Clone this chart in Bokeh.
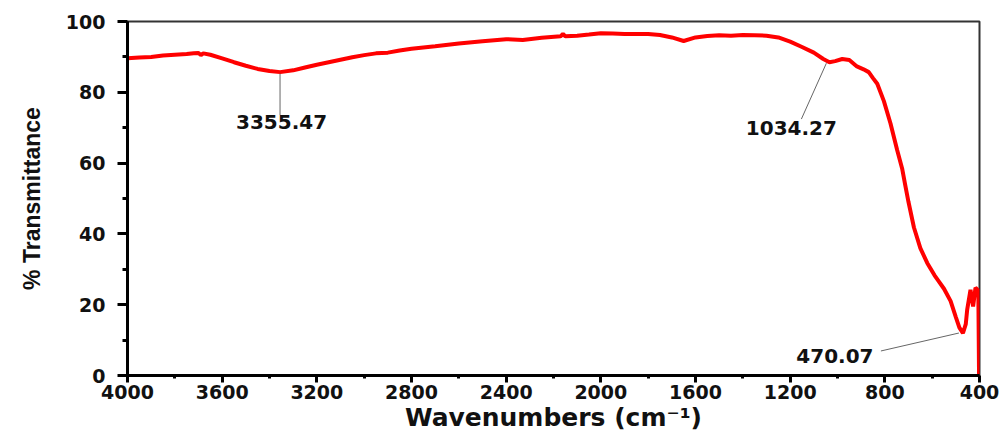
import numpy as np
from bokeh.plotting import figure
from bokeh.models import Range1d, FixedTicker
from bokeh.embed import file_html
from bokeh.resources import INLINE
from bokeh.core.properties import value

# FTIR spectrum
wavenumber = [4000, 3950, 3900, 3850, 3800, 3750, 3720, 3700, 3690, 3680, 3650,
              3600, 3550, 3500, 3450, 3400, 3355, 3300, 3250, 3200, 3150, 3100,
              3050, 3000, 2950, 2900, 2850, 2800, 2700, 2600, 2500, 2400, 2330,
              2250, 2170, 2160, 2150, 2100, 2050, 2000, 1950, 1900, 1800, 1750,
              1700, 1650, 1600, 1550, 1500, 1450, 1400, 1350, 1300, 1250, 1200,
              1150, 1100, 1060, 1034, 1010, 980, 950, 918, 890, 868, 850, 832,
              804, 776, 748, 727, 713, 700, 677, 650, 621, 590, 572, 550, 522,
              500, 485, 470, 458, 452, 438, 427, 417, 408, 405, 402, 400]
transmittance = [89.6, 89.8, 90.0, 90.4, 90.6, 90.8, 91.0, 91.1, 90.5, 91.0, 90.6,
                 89.6, 88.5, 87.5, 86.6, 86.0, 85.7, 86.2, 87.0, 87.8, 88.5, 89.2,
                 89.9, 90.5, 91.0, 91.2, 91.8, 92.3, 93.0, 93.8, 94.4, 95.0, 94.8,
                 95.4, 95.8, 96.5, 95.8, 96.0, 96.3, 96.7, 96.6, 96.5, 96.5, 96.2,
                 95.5, 94.5, 95.5, 95.9, 96.1, 96.0, 96.2, 96.1, 96.0, 95.5, 94.3,
                 92.8, 91.2, 89.4, 88.5, 88.8, 89.4, 89.1, 87.3, 86.5, 85.7, 84.0, 82.4,
                 77.5, 71.2, 63.7, 58.5, 53.5, 49.0, 41.8, 36.0, 31.8, 28.3, 26.6, 24.5, 21.0,
                 16.5, 13.5, 12.0, 14.5, 18.6, 24.2, 19.5, 24.8, 24.2, 24.0, 0.5, 0.0]

x_ticks = [4000, 3600, 3200, 2800, 2400, 2000, 1600, 1200, 800, 400]
x_minor = [3800, 3400, 3000, 2600, 2200, 1800, 1400, 1000, 600]
y_ticks = [0, 20, 40, 60, 80, 100]
y_minor = [10, 30, 50, 70, 90]

peak_x = [3355.47, 1034.27, 470.07]
peak_y = [85.7, 88.5, 12.0]
peak_labels = [f"{v:.2f}" for v in peak_x]

# label placement, in screen pixels relative to each peak (right, down)
start_off = [(0, 1.5), (-3, 1), (-4, 0)]
end_off = [(0, 43), (-28, 57), (-82, 18)]
text_off = [(1.5, 50), (-38, 66), (-128, 23)]

FRAME_W, FRAME_H = 852, 355
px_x = FRAME_W / 3600.0
px_y = FRAME_H / 100.0

p = figure(width=1003, height=434, x_range=Range1d(4000, 400), y_range=Range1d(0, 100),
           toolbar_location=None, output_backend="svg",
           min_border_left=127, min_border_right=24, min_border_top=21, min_border_bottom=58)
p.background_fill_color = "white"
p.border_fill_color = "white"
p.grid.visible = False
p.outline_line_color = "#333333"
p.outline_line_width = 2

p.line(wavenumber, transmittance, line_color="#ff0000", line_width=4)

def off(px0, py0, o):
    return px0 - o[0] / px_x, py0 - o[1] / px_y

sx0, sy0, sx1, sy1, tx, ty = [], [], [], [], [], []
for xv, yv, so, eo, to in zip(peak_x, peak_y, start_off, end_off, text_off):
    a = off(xv, yv, so); b = off(xv, yv, eo); c = off(xv, yv, to)
    sx0.append(a[0]); sy0.append(a[1]); sx1.append(b[0]); sy1.append(b[1])
    tx.append(c[0]); ty.append(c[1])

p.segment(sx0, sy0, sx1, sy1, line_color="#666666", line_width=1)
p.text(tx, ty, text=peak_labels, text_align="center", text_baseline="middle",
       text_font=value("DejaVu Sans"), text_font_style="bold", text_font_size="20px",
       text_color="#111111")

for ax in (p.xaxis[0], p.yaxis[0]):
    ax.axis_line_width = 3
    ax.axis_line_color = "black"
    ax.major_tick_line_width = 3
    ax.minor_tick_line_width = 3
    ax.major_tick_in = 0
    ax.minor_tick_in = 0
    ax.major_label_text_font = "DejaVu Sans"
    ax.major_label_text_font_style = "bold"
    ax.major_label_text_font_size = "19px"
    ax.major_label_text_color = "#111111"
    ax.axis_label_text_font_style = "bold"
    ax.axis_label_text_color = "#111111"

p.xaxis.ticker = FixedTicker(ticks=x_ticks, minor_ticks=x_minor)
p.yaxis.ticker = FixedTicker(ticks=y_ticks, minor_ticks=y_minor)
p.xaxis.major_tick_out = 7
p.xaxis.minor_tick_out = 3
p.xaxis.major_label_standoff = 2
p.xaxis.axis_label = "Wavenumbers (cm\u207b\u00b9)"
p.xaxis.axis_label_text_font = "DejaVu Sans"
p.xaxis.axis_label_text_font_size = "25px"
p.xaxis.axis_label_standoff = 1

p.yaxis.major_tick_out = 10
p.yaxis.minor_tick_out = 5
p.yaxis.major_label_standoff = 12
p.yaxis.axis_label = "% Transmittance"
p.yaxis.axis_label_text_font = "Liberation Sans"
p.yaxis.axis_label_text_font_size = "23px"
p.yaxis.axis_label_standoff = 18

open("out.html", "w").write(file_html(p, INLINE))
